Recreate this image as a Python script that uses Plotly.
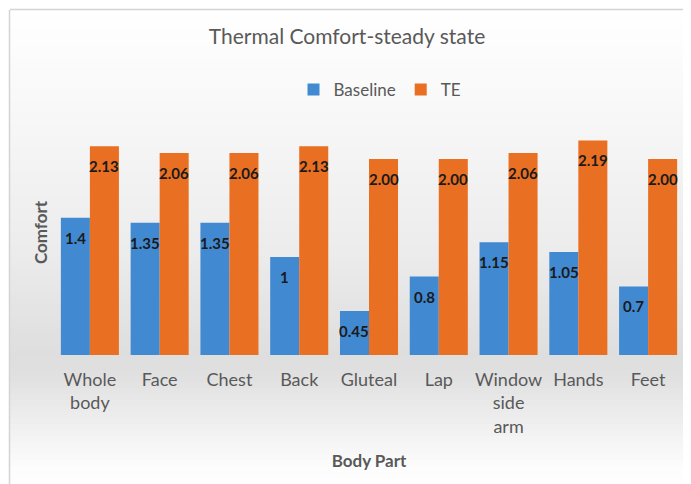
import plotly.graph_objects as go

categories = ["Whole<br>body", "Face", "Chest", "Back", "Gluteal", "Lap", "Window<br>side<br>arm", "Hands", "Feet"]
baseline = [1.4, 1.35, 1.35, 1.0, 0.45, 0.8, 1.15, 1.05, 0.7]
baseline_labels = ["1.4", "1.35", "1.35", "1", "0.45", "0.8", "1.15", "1.05", "0.7"]
te = [2.13, 2.06, 2.06, 2.13, 2.00, 2.00, 2.06, 2.19, 2.00]
te_labels = ["2.13", "2.06", "2.06", "2.13", "2.00", "2.00", "2.06", "2.19", "2.00"]

OFF = 8  # page body margin
W, H = 691 - OFF, 484 - OFF
ML, MR, MT, MB = 55 - OFF, 8, 110 - OFF, 129
PW, PH = W - ML - MR, H - MT - MB
FONT = "Lato, 'Open Sans', sans-serif"
GRAY = "#595959"

def py_paper(py):
    # py: screen pixel y
    return (H - MB - (py - OFF)) / PH

def px_paper(px):
    return (px - OFF - ML) / PW

fig = go.Figure()
fig.add_trace(go.Bar(name="Baseline", x=list(range(len(categories))), y=baseline,
                     marker=dict(color="#4189d1", line=dict(width=0))))
fig.add_trace(go.Bar(name="TE", x=list(range(len(categories))), y=te,
                     marker=dict(color="#e96f22", line=dict(width=0))))

bargap = 0.168
half = (1 - bargap) / 4
lab_font = dict(family=FONT, size=15, color="#1a1a1a", weight="bold")
annotations = []
for i, (v, t) in enumerate(zip(baseline, baseline_labels)):
    annotations.append(dict(x=i - half, y=v, text=t, showarrow=False, yshift=-20,
                            xref="x", yref="y", font=lab_font))
for i, (v, t) in enumerate(zip(te, te_labels)):
    annotations.append(dict(x=i + half, y=v, text=t, showarrow=False, yshift=-20,
                            xref="x", yref="y", font=lab_font))

# background vertical gradient
def gray_at(py):
    pts = [(0, 255), (10, 255), (120, 247), (250, 236), (355, 222), (375, 224), (420, 238), (470, 253), (500, 255)]
    for (y0, g0), (y1, g1) in zip(pts, pts[1:]):
        if y0 <= py <= y1:
            return g0 + (g1 - g0) * (py - y0) / (y1 - y0)
    return 255

shapes = []
step = 6
for py in range(10, 490, step):
    g = int(round(gray_at(py + step / 2)))
    shapes.append(dict(type="rect", xref="paper", yref="paper", layer="below",
                       x0=px_paper(10), x1=px_paper(700), y0=py_paper(py + step), y1=py_paper(py),
                       fillcolor=f"rgb({g},{g},{g})", line=dict(width=0)))
# border (top and left)
shapes.append(dict(type="line", xref="paper", yref="paper", x0=px_paper(10), x1=px_paper(700),
                   y0=py_paper(9.5), y1=py_paper(9.5), line=dict(color="#d4d4d4", width=1.5)))
shapes.append(dict(type="line", xref="paper", yref="paper", x0=px_paper(9.5), x1=px_paper(9.5),
                   y0=py_paper(10), y1=py_paper(500), line=dict(color="#d4d4d4", width=1.5)))

fig.update_layout(
    width=W, height=H,
    margin=dict(l=ML, r=MR, t=MT, b=MB),
    paper_bgcolor="white", plot_bgcolor="rgba(0,0,0,0)",
    barmode="group", bargap=bargap, bargroupgap=0,
    title=dict(text="Thermal Comfort-steady state", x=(347 - OFF) / W, xanchor="center",
               y=1 - (37 - OFF) / H, yanchor="middle", font=dict(family=FONT, size=21, color=GRAY)),
    legend=dict(orientation="h", x=px_paper(380), xanchor="center", y=py_paper(90), yanchor="middle",
                font=dict(family=FONT, size=17, color=GRAY), bgcolor="rgba(0,0,0,0)", itemwidth=30,
                traceorder="normal"),
    xaxis=dict(tickmode="array", tickvals=list(range(len(categories))), ticktext=categories,
               range=[-0.5, len(categories) - 0.5], showline=False, showgrid=False, zeroline=False,
               ticks="", ticklen=0, ticklabelstandoff=12, tickfont=dict(family=FONT, size=18, color=GRAY),
               title=dict(text="Body Part", font=dict(family=FONT, size=17, color=GRAY, weight="bold"), standoff=19)),
    yaxis=dict(range=[0, 2.5], showticklabels=False, showgrid=False, zeroline=False, showline=False, ticks="",
               title=dict(text="Comfort", font=dict(family=FONT, size=17, color=GRAY, weight="bold"), standoff=2)),
    annotations=annotations,
    shapes=shapes,
)

fig.write_html("out.html")
